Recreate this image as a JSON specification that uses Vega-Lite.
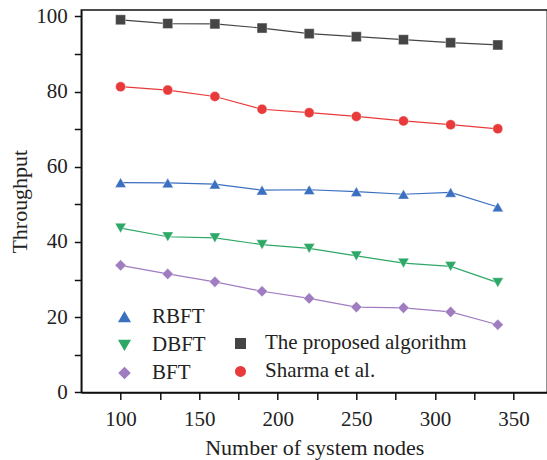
{
  "$schema": "https://vega.github.io/schema/vega-lite/v6.json",
  "width": 466,
  "height": 382.4,
  "autosize": "none",
  "padding": {"left": 81.3, "top": 10, "right": 0, "bottom": 67.6},
  "background": "white",
  "config": {
    "view": {"stroke": "#111", "strokeWidth": 1.5},
    "font": "Liberation Serif",
    "axis": {
      "labelFont": "Liberation Serif",
      "titleFont": "Liberation Serif",
      "labelFontSize": 21,
      "titleFontSize": 22,
      "titleFontWeight": "normal",
      "labelColor": "#222",
      "titleColor": "#222",
      "domainColor": "#111",
      "domainWidth": 1.5,
      "tickColor": "#111",
      "tickWidth": 1.5,
      "tickSize": 7,
      "grid": false
    }
  },
  "data": {
    "values": [
      {"series": "The proposed algorithm", "nodes": 100, "throughput": 99.1},
      {"series": "The proposed algorithm", "nodes": 130, "throughput": 98.1},
      {"series": "The proposed algorithm", "nodes": 160, "throughput": 98.0},
      {"series": "The proposed algorithm", "nodes": 190, "throughput": 96.9},
      {"series": "The proposed algorithm", "nodes": 220, "throughput": 95.4},
      {"series": "The proposed algorithm", "nodes": 250, "throughput": 94.6},
      {"series": "The proposed algorithm", "nodes": 280, "throughput": 93.8},
      {"series": "The proposed algorithm", "nodes": 310, "throughput": 93.0},
      {"series": "The proposed algorithm", "nodes": 340, "throughput": 92.4},
      {"series": "Sharma et al.", "nodes": 100, "throughput": 81.3},
      {"series": "Sharma et al.", "nodes": 130, "throughput": 80.4},
      {"series": "Sharma et al.", "nodes": 160, "throughput": 78.7},
      {"series": "Sharma et al.", "nodes": 190, "throughput": 75.3},
      {"series": "Sharma et al.", "nodes": 220, "throughput": 74.4},
      {"series": "Sharma et al.", "nodes": 250, "throughput": 73.4},
      {"series": "Sharma et al.", "nodes": 280, "throughput": 72.2},
      {"series": "Sharma et al.", "nodes": 310, "throughput": 71.2},
      {"series": "Sharma et al.", "nodes": 340, "throughput": 70.1},
      {"series": "RBFT", "nodes": 100, "throughput": 55.8},
      {"series": "RBFT", "nodes": 130, "throughput": 55.7},
      {"series": "RBFT", "nodes": 160, "throughput": 55.4},
      {"series": "RBFT", "nodes": 190, "throughput": 53.8},
      {"series": "RBFT", "nodes": 220, "throughput": 53.9},
      {"series": "RBFT", "nodes": 250, "throughput": 53.4},
      {"series": "RBFT", "nodes": 280, "throughput": 52.7},
      {"series": "RBFT", "nodes": 310, "throughput": 53.2},
      {"series": "RBFT", "nodes": 340, "throughput": 49.3},
      {"series": "DBFT", "nodes": 100, "throughput": 43.7},
      {"series": "DBFT", "nodes": 130, "throughput": 41.4},
      {"series": "DBFT", "nodes": 160, "throughput": 41.1},
      {"series": "DBFT", "nodes": 190, "throughput": 39.3},
      {"series": "DBFT", "nodes": 220, "throughput": 38.3},
      {"series": "DBFT", "nodes": 250, "throughput": 36.3},
      {"series": "DBFT", "nodes": 280, "throughput": 34.4},
      {"series": "DBFT", "nodes": 310, "throughput": 33.5},
      {"series": "DBFT", "nodes": 340, "throughput": 29.2},
      {"series": "BFT", "nodes": 100, "throughput": 33.8},
      {"series": "BFT", "nodes": 130, "throughput": 31.5},
      {"series": "BFT", "nodes": 160, "throughput": 29.4},
      {"series": "BFT", "nodes": 190, "throughput": 26.9},
      {"series": "BFT", "nodes": 220, "throughput": 25.0},
      {"series": "BFT", "nodes": 250, "throughput": 22.7},
      {"series": "BFT", "nodes": 280, "throughput": 22.5},
      {"series": "BFT", "nodes": 310, "throughput": 21.4},
      {"series": "BFT", "nodes": 340, "throughput": 18.0}
    ]
  },
  "encoding": {
    "x": {
      "field": "nodes", "type": "quantitative",
      "scale": {"domain": [75, 371.5], "nice": false, "zero": false},
      "axis": {
        "title": "Number of system nodes",
        "labelFont": "Liberation Serif",
        "values": [100, 125, 150, 175, 200, 225, 250, 275, 300, 325, 350],
        "labelExpr": "datum.value % 50 === 0 ? datum.label : ''",
        "labelPadding": 9,
        "titlePadding": 8,
        "encode": {"ticks": {"update": {"y2": {"signal": "datum.value % 50 === 0 ? 7 : 4"}}}}
      }
    },
    "y": {
      "field": "throughput", "type": "quantitative",
      "scale": {"domain": [0, 101.7], "nice": false},
      "axis": {
        "title": "Throughput",
        "labelFont": "Liberation Serif",
        "values": [0, 10, 20, 30, 40, 50, 60, 70, 80, 90, 100],
        "labelExpr": "datum.value % 20 === 0 ? datum.label : ''",
        "labelPadding": 7,
        "titlePadding": 4,
        "encode": {"ticks": {"update": {"x2": {"signal": "datum.value % 20 === 0 ? -7 : -4"}}}}
      }
    }
  },
  "layer": [
    {
      "transform": [{"filter": "indexof(['RBFT','DBFT','BFT'], datum.series) >= 0"}],
      "encoding": {
        "color": {"field": "series", "type": "nominal",
          "scale": {"domain": ["RBFT", "DBFT", "BFT"], "range": ["#3b6fc0", "#2ea866", "#a07cc1"]},
          "legend": {
            "title": null, "orient": "none", "legendX": 32.7, "legendY": 297,
            "symbolSize": 110, "clipHeight": 20, "rowPadding": 7, "labelOffset": 17, "labelLimit": 300,
            "labelFont": "Liberation Serif", "labelFontSize": 21, "labelColor": "#222", "padding": 0
          }}
      },
      "layer": [
        {
          "mark": {"type": "line", "strokeWidth": 1.2},
          "encoding": {}
        },
        {
          "mark": {"type": "point", "filled": true, "opacity": 1, "stroke": "white", "strokeWidth": 0.6, "strokeOpacity": 0.7},
          "encoding": {
            "shape": {"field": "series", "type": "nominal",
              "scale": {"domain": ["RBFT", "DBFT", "BFT"], "range": ["triangle-up", "triangle-down", "diamond"]},
              "legend": null},
            "size": {"value": 125}
          }
        }
      ]
    },
    {
      "transform": [{"filter": "indexof(['The proposed algorithm','Sharma et al.'], datum.series) >= 0"}],
      "encoding": {
        "color": {"field": "series", "type": "nominal",
          "scale": {"domain": ["The proposed algorithm", "Sharma et al."], "range": ["#454545", "#e83a3a"]},
          "legend": {
            "title": null, "orient": "none", "legendX": 148.7, "legendY": 323.4,
            "symbolSize": 90, "clipHeight": 20, "rowPadding": 7, "labelOffset": 14, "labelLimit": 300,
            "labelFont": "Liberation Serif", "labelFontSize": 21, "labelColor": "#222", "padding": 0
          }}
      },
      "layer": [
        {
          "mark": {"type": "line", "strokeWidth": 1.2},
          "encoding": {}
        },
        {
          "mark": {"type": "point", "filled": true, "opacity": 1, "stroke": "white", "strokeWidth": 0.6, "strokeOpacity": 0.7},
          "encoding": {
            "shape": {"field": "series", "type": "nominal",
              "scale": {"domain": ["The proposed algorithm", "Sharma et al."], "range": ["square", "circle"]},
              "legend": null},
            "size": {"value": 100}
          }
        }
      ]
    }
  ],
  "resolve": {"scale": {"color": "independent", "shape": "independent"}}
}
